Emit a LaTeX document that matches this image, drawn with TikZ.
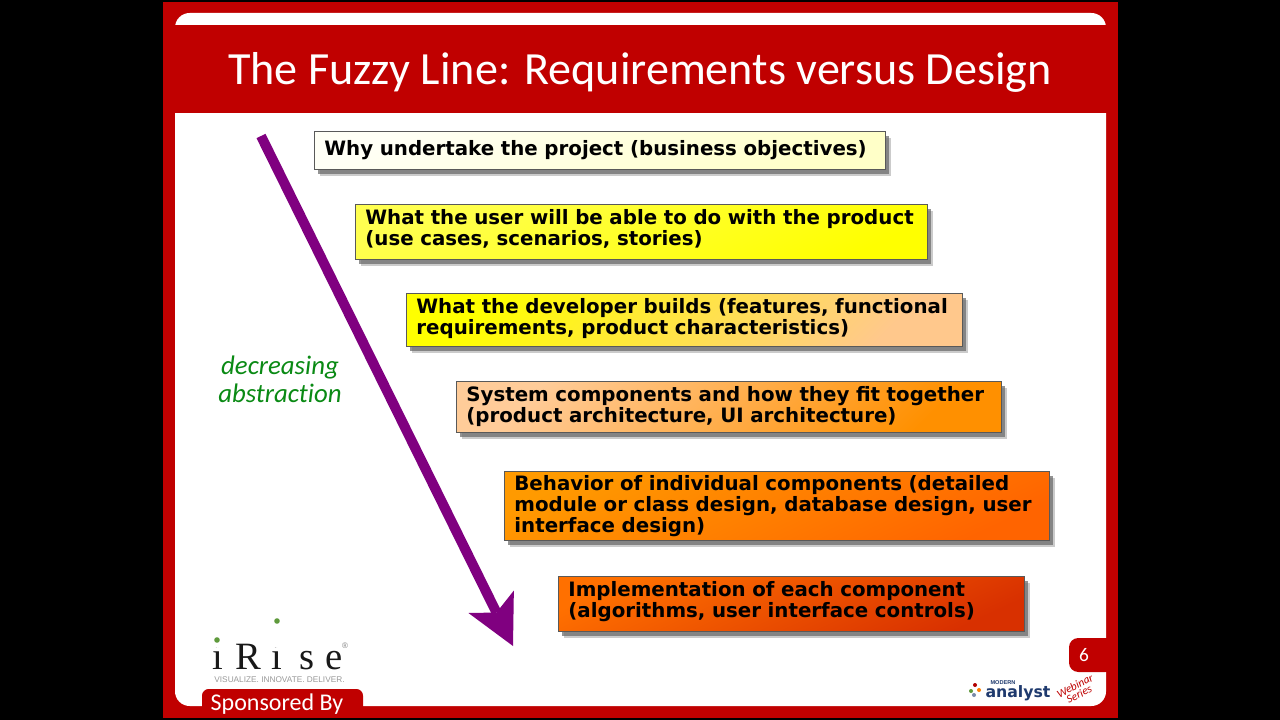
\documentclass[tikz,border=0pt]{standalone}
\usepackage{fontspec}
\setmainfont{Carlito}
\newfontfamily\boxfont{DejaVu Sans}
\newfontfamily\logofont{Liberation Serif}
\newfontfamily\plainfont{Liberation Sans}
\usetikzlibrary{arrows.meta,shadows}
\definecolor{slidered}{HTML}{C00000}
\definecolor{arrowpurple}{HTML}{800080}
\definecolor{labelgreen}{HTML}{0A8A14}
\definecolor{logogreen}{HTML}{5F9A3C}
\definecolor{logoblue}{HTML}{1F3A6E}
\definecolor{levela}{HTML}{FFFFF6}
\definecolor{levelb}{HTML}{FFFFC8}
\definecolor{levelc}{HTML}{FFFF50}
\definecolor{leveld}{HTML}{FFFF00}
\definecolor{levele}{HTML}{FFC88C}
\definecolor{levelf}{HTML}{FFCC99}
\definecolor{levelg}{HTML}{FF9000}
\definecolor{levelh}{HTML}{FF9A00}
\definecolor{leveli}{HTML}{FF6400}
\definecolor{levelj}{HTML}{FF7000}
\definecolor{levelk}{HTML}{D83000}
\newcommand{\lift}[1]{\\[#1]\mbox{}}
\tikzset{
	levelbox/.style n args={5}{draw=black!65, line width=0.6pt, anchor=north west,
		minimum width=#1*0.75pt, minimum height=#2*0.75pt, text width=#1*0.75pt-15pt,
		inner xsep=7.5pt, inner ysep=0pt, align=left,
		top color=#3, bottom color=#4, shading angle=#5,
		font=\boxfont\bfseries\fontsize{14.85}{15.75}\selectfont,
		drop shadow={shadow xshift=4.5pt, shadow yshift=-5pt, fill=black!40, opacity=0.5},
		drop shadow={shadow xshift=3pt, shadow yshift=-3.5pt, fill=black!60, opacity=0.7}},
	sidelabel/.style={text=labelgreen, font=\fontsize{20.1}{21}\selectfont\itshape\addfontfeature{Ligatures=CommonOff}, align=center},
	tablabel/.style={text=white, font=\fontsize{18}{18}\selectfont}
}
\begin{document}
\begin{tikzpicture}[x=0.75pt, y=-0.75pt, >=stealth]
	% Слайд
	\fill[black] (0,0) rectangle (1280,720);
	\fill[slidered] (163,2) rectangle (1118,718);
	\fill[white, rounded corners=11pt] (175,13) rectangle (1106,706);
	\fill[slidered] (163,25) rectangle (1118,113);
	\node (title) at (640,72) [text=white, font=\fontsize{34.6}{36}\selectfont] {The Fuzzy Line: Requirements versus Design};

	% Уровни
	\node (why) at (314,131) [levelbox={571}{38}{levela}{levelb}{25}] {Why undertake the project (business objectives)};
	\node (user) at (355,204) [levelbox={572}{55}{levelc}{leveld}{25}] {What the user will be able to do with the product\\(use cases, scenarios, stories)\lift{-9.5pt}};
	\node (developer) at (406,293) [levelbox={556}{53}{leveld}{levele}{45}] {What the developer builds (features, functional\\requirements, product characteristics)\lift{-11pt}};
	\node (components) at (456,381) [levelbox={545}{51}{levelf}{levelg}{45}] {System components and how they fit together\\(product architecture, UI architecture)};
	\node (behavior) at (504,471) [levelbox={545}{69}{levelh}{leveli}{25}] {Behavior of individual components (detailed\\module or class design, database design, user\\interface design)};
	\node (implementation) at (558,576) [levelbox={466}{55}{levelj}{levelk}{25}] {Implementation of each component\\(algorithms, user interface controls)\lift{-9.5pt}};

	% Стрелка
	\coordinate (arrowstart) at (261,136);
	\coordinate (arrowtip) at (513,646);
	\draw[-{Stealth[length=37pt, width=38pt, inset=9pt, line width=0pt]}, arrowpurple, line width=7.5pt] (arrowstart) -- (arrowtip);
	\node (abstraction) at (280,379) [sidelabel] {decreasing\\abstraction};

	% Вкладки
	\fill[slidered, rounded corners=5pt] (202,689) rectangle (363,716);
	\node (sponsored) at (277,704) [tablabel] {Sponsored By};
	\fill[slidered, rounded corners=7pt] (1069,638) rectangle (1115,672);
	\node (pagenum) at (1084,655) [text=white, font=\fontsize{14.5}{14.5}\selectfont] {6};

	% Логотипы
	\node (irise) at (277.5,669) [anchor=base, inner sep=0pt, font=\logofont\fontsize{29}{29}\selectfont, text=black!90] {i\kern9.75pt R\kern7.5pt i\kern13pt s\kern8.25pt e};
	\fill[white] (217.5,643) circle (5);
	\fill[white] (277,643) circle (5);
	\fill[logogreen] (217,640) circle (2.8);
	\fill[logogreen] (277,621) circle (2.8);
	\node (mark) at (345,646) [inner sep=0pt, font=\plainfont\fontsize{6}{6}\selectfont, text=black!50] {®};
	\node (motto) at (279.5,680) [inner sep=0pt, font=\plainfont\fontsize{6.2}{6}\selectfont, text=black!40] {VISUALIZE. INNOVATE. DELIVER.};

	\node (modern) at (1003,683) [inner sep=0pt, font=\plainfont\bfseries\fontsize{4.2}{5}\selectfont, text=logoblue] {MODERN};
	\node (analyst) at (1018,693) [inner sep=0pt, font=\boxfont\bfseries\fontsize{11.8}{12}\selectfont, text=logoblue] {analyst};
	\fill[red!70!black] (975,685) circle (2);
	\fill[logogreen] (971,691) circle (2);
	\fill[orange] (979,690) circle (2);
	\fill[logoblue!60] (974,695) circle (2);
	\node (webinar) at (1077,690) [rotate=27, inner sep=0pt, align=center, text=red!75!black, font=\fontsize{8.5}{7}\selectfont\itshape] {Webinar\\Series};
\end{tikzpicture}
\end{document}
